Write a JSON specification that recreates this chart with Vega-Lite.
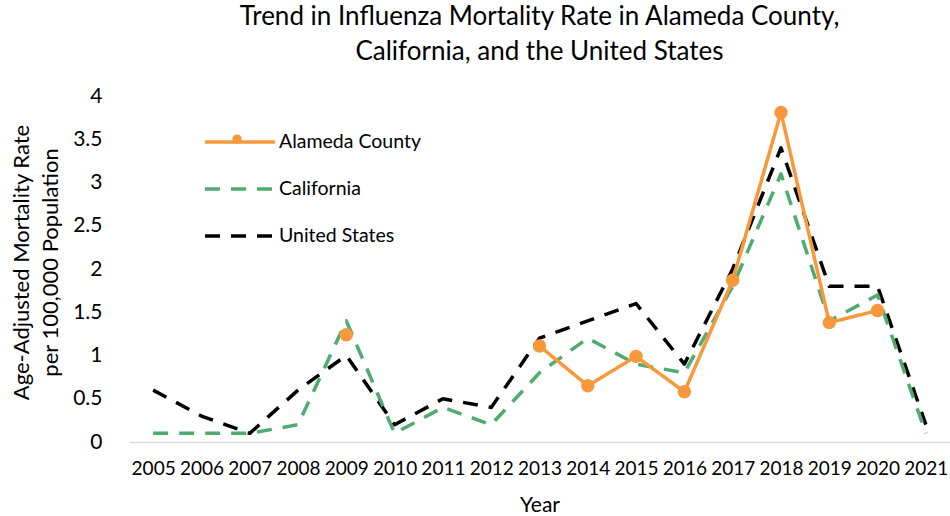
{
  "$schema": "https://vega.github.io/schema/vega-lite/v6.json",
  "width": 821,
  "height": 346,
  "autosize": {"type": "none"},
  "padding": {"left": 129, "top": 96, "right": 0, "bottom": 74},
  "title": {
    "text": ["Trend in Influenza Mortality Rate in Alameda County,", "California, and the United States"],
    "font": "Lato",
    "fontSize": 26,
    "fontWeight": "normal",
    "color": "#000000",
    "lineHeight": 35,
    "anchor": "middle",
    "frame": "group",
    "offset": 20
  },
  "config": {
    "view": {"stroke": null},
    "font": "Lato",
    "axis": {"labelFont": "Lato", "titleFont": "Lato", "labelColor": "#000000", "titleColor": "#000000"},
    "legend": {"labelFont": "Lato"}
  },
  "data": {
    "values": [
      {"year": "2005", "series": "United States", "value": 0.6},
      {"year": "2006", "series": "United States", "value": 0.3},
      {"year": "2007", "series": "United States", "value": 0.1},
      {"year": "2008", "series": "United States", "value": 0.6},
      {"year": "2009", "series": "United States", "value": 1.0},
      {"year": "2010", "series": "United States", "value": 0.2},
      {"year": "2011", "series": "United States", "value": 0.5},
      {"year": "2012", "series": "United States", "value": 0.4},
      {"year": "2013", "series": "United States", "value": 1.2},
      {"year": "2014", "series": "United States", "value": 1.4},
      {"year": "2015", "series": "United States", "value": 1.6},
      {"year": "2016", "series": "United States", "value": 0.9},
      {"year": "2017", "series": "United States", "value": 2.0},
      {"year": "2018", "series": "United States", "value": 3.4},
      {"year": "2019", "series": "United States", "value": 1.8},
      {"year": "2020", "series": "United States", "value": 1.8},
      {"year": "2021", "series": "United States", "value": 0.2},
      {"year": "2005", "series": "California", "value": 0.1},
      {"year": "2006", "series": "California", "value": 0.1},
      {"year": "2007", "series": "California", "value": 0.1},
      {"year": "2008", "series": "California", "value": 0.2},
      {"year": "2009", "series": "California", "value": 1.4},
      {"year": "2010", "series": "California", "value": 0.1},
      {"year": "2011", "series": "California", "value": 0.4},
      {"year": "2012", "series": "California", "value": 0.2},
      {"year": "2013", "series": "California", "value": 0.8},
      {"year": "2014", "series": "California", "value": 1.2},
      {"year": "2015", "series": "California", "value": 0.9},
      {"year": "2016", "series": "California", "value": 0.8},
      {"year": "2017", "series": "California", "value": 1.8},
      {"year": "2018", "series": "California", "value": 3.1},
      {"year": "2019", "series": "California", "value": 1.4},
      {"year": "2020", "series": "California", "value": 1.7},
      {"year": "2021", "series": "California", "value": 0.1},
      {"year": "2009", "series": "Alameda County", "value": 1.24},
      {"year": "2010", "series": "Alameda County", "value": null},
      {"year": "2011", "series": "Alameda County", "value": null},
      {"year": "2012", "series": "Alameda County", "value": null},
      {"year": "2013", "series": "Alameda County", "value": 1.11},
      {"year": "2014", "series": "Alameda County", "value": 0.65},
      {"year": "2015", "series": "Alameda County", "value": 0.99},
      {"year": "2016", "series": "Alameda County", "value": 0.58},
      {"year": "2017", "series": "Alameda County", "value": 1.87},
      {"year": "2018", "series": "Alameda County", "value": 3.81},
      {"year": "2019", "series": "Alameda County", "value": 1.38},
      {"year": "2020", "series": "Alameda County", "value": 1.52}
    ]
  },
  "encoding": {
    "x": {
      "field": "year",
      "type": "ordinal",
      "scale": {"type": "point", "padding": 0.5, "domain": ["2005","2006","2007","2008","2009","2010","2011","2012","2013","2014","2015","2016","2017","2018","2019","2020","2021"]},
      "axis": {
        "title": "Year",
        "labelAngle": 0,
        "labelFontSize": 19,
        "labelPadding": 17,
        "ticks": false,
        "tickSize": 0,
        "domainColor": "#D9D9D9",
        "domainWidth": 1.5,
        "grid": false,
        "titleFontSize": 21,
        "titleFontWeight": "normal",
        "titlePadding": 16
      }
    },
    "y": {
      "field": "value",
      "type": "quantitative",
      "scale": {"domain": [0, 4], "nice": false},
      "axis": {
        "title": ["Age-Adjusted Mortality Rate", "per 100,000 Population"],
        "values": [0, 0.5, 1, 1.5, 2, 2.5, 3, 3.5, 4],
        "format": "~g",
        "labelFontSize": 21,
        "labelPadding": 27,
        "ticks": false,
        "tickSize": 0,
        "domain": false,
        "grid": false,
        "titleFontSize": 22,
        "titleFontWeight": "normal",
        "titleLineHeight": 29,
        "titlePadding": 10,
        "titleY": 166
      }
    }
  },
  "layer": [
    {
      "mark": {"type": "line", "strokeWidth": 3.5, "invalid": "break-paths-show-domains", "strokeJoin": "round"},
      "encoding": {
        "color": {
          "field": "series",
          "type": "nominal",
          "scale": {"domain": ["Alameda County", "California", "United States"], "range": ["#F7993B", "#4FAB6F", "#000000"]},
          "legend": {
            "title": null,
            "orient": "none",
            "legendX": 74,
            "legendY": 9,
            "symbolType": "stroke",
            "symbolSize": 4900,
            "symbolStrokeWidth": 3.5,
            "labelFontSize": 19.5,
            "labelColor": "#000000",
            "labelOffset": 2,
            "rowPadding": -23
          }
        },
        "strokeDash": {
          "field": "series",
          "type": "nominal",
          "scale": {"domain": ["Alameda County", "California", "United States"], "range": [[1, 0], [15, 11], [15, 11]]},
          "legend": {
            "title": null,
            "orient": "none",
            "legendX": 74,
            "legendY": 9,
            "symbolType": "stroke",
            "symbolSize": 4900,
            "symbolStrokeWidth": 3.5,
            "labelFontSize": 19.5,
            "labelColor": "#000000",
            "labelOffset": 2,
            "rowPadding": -23
          }
        },
        "order": {"field": "series", "sort": "descending"}
      }
    },
    {
      "transform": [{"filter": "datum.series === 'Alameda County' && datum.value != null"}],
      "mark": {"type": "point", "filled": true, "opacity": 1, "size": 180, "color": "#F7993B"},
      "encoding": {
        "shape": {
          "field": "series",
          "type": "nominal",
          "scale": {"domain": ["Alameda County"], "range": ["circle"]},
          "legend": {
            "title": null,
            "orient": "none",
            "legendX": 99,
            "legendY": 34,
            "symbolSize": 85,
            "symbolFillColor": "#F7993B",
            "symbolStrokeColor": "#F7993B",
            "symbolStrokeWidth": 0,
            "labelFontSize": 18,
            "labelExpr": "''",
            "labelColor": "#000000"
          }
        }
      }
    }
  ]
}
